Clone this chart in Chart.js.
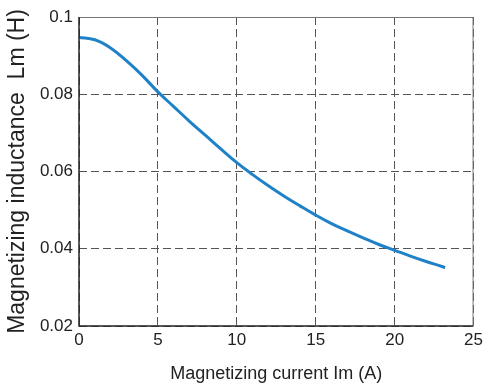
<!DOCTYPE html>
<html>
<head>
<meta charset="utf-8">
<script src="https://cdn.jsdelivr.net/npm/chart.js@4/dist/chart.umd.min.js"></script>
<style>
  html, body { margin: 0; padding: 0; background: #fff; }
  #wrap { width: 487px; height: 391px; }
</style>
</head>
<body>
<div id="wrap"><canvas id="lmChart" width="487" height="391"></canvas></div>
<script>
// courbe
const currentA = [0, 1, 2, 3, 4, 5, 6, 7, 8, 9, 10, 11, 12, 13, 14, 15, 16, 17, 18, 19, 20, 21, 22, 23, 23.2];
const inductanceH = [0.0947, 0.0941, 0.0920, 0.0887, 0.0849, 0.0806, 0.0768, 0.0730, 0.0694, 0.0658, 0.0623, 0.0592, 0.0563, 0.0536, 0.0511, 0.0487, 0.0465, 0.0446, 0.0428, 0.0411, 0.0396, 0.0381, 0.0367, 0.0354, 0.0351];
const xTickLabels = ['0', '5', '10', '15', '20', '25'];
const yTickLabels = ['0.02', '0.04', '0.06', '0.08', '0.1'];

const points = currentA.map((x, i) => ({ x: x, y: inductanceH[i] }));

// cadre: axes noirs a gauche/en bas, gris en haut/a droite (style matlab)
const boxPlugin = {
  id: 'box',
  afterDatasetsDraw(chart) {
    const a = chart.chartArea;
    const c = chart.ctx;
    c.save();
    c.lineWidth = 1;
    c.strokeStyle = '#777';
    c.beginPath();
    c.moveTo(a.left, a.top + 0.5);
    c.lineTo(a.right - 0.5, a.top + 0.5);
    c.lineTo(a.right - 0.5, a.bottom);
    c.stroke();
    c.lineWidth = 1.5;
    c.strokeStyle = '#222';
    c.beginPath();
    c.moveTo(a.left, a.top);
    c.lineTo(a.left, a.bottom);
    c.lineTo(a.right, a.bottom);
    c.stroke();
    c.restore();
  }
};

const font = { family: 'Liberation Sans, Arial, sans-serif', size: 17 };

new Chart(document.getElementById('lmChart').getContext('2d'), {
  type: 'line',
  data: {
    datasets: [{
      data: points,
      borderColor: '#1f82c8',
      borderWidth: 3,
      pointRadius: 0,
      tension: 0.4,
      fill: false
    }]
  },
  options: {
    responsive: false,
    animation: false,
    layout: { padding: { left: 0, right: 10, top: 17, bottom: 0 } },
    plugins: { legend: { display: false }, tooltip: { enabled: false } },
    scales: {
      x: {
        type: 'linear',
        min: 0,
        max: 25,
        ticks: {
          stepSize: 5,
          color: '#222',
          font: font,
          padding: 4,
          callback: (v, i) => xTickLabels[i]
        },
        grid: { color: '#555', drawTicks: false },
        border: { display: false, dash: [8, 4] },
        title: {
          display: true,
          text: 'Magnetizing current Im (A)',
          color: '#222',
          font: { family: 'Liberation Sans, Arial, sans-serif', size: 18 },
          padding: { top: 3, bottom: 6 }
        },
        afterFit: s => { s.height = 65; }
      },
      y: {
        min: 0.02,
        max: 0.1,
        ticks: {
          stepSize: 0.02,
          color: '#222',
          font: font,
          padding: 6,
          callback: (v, i) => yTickLabels[i]
        },
        grid: { color: '#555', drawTicks: false },
        border: { display: false, dash: [8, 4] },
        title: {
          display: true,
          text: 'Magnetizing inductance  Lm (H)',
          color: '#222',
          font: { family: 'Liberation Sans, Arial, sans-serif', size: 23 },
          padding: { top: 4, bottom: 0 }
        },
        afterFit: s => { s.width = 79; }
      }
    }
  },
  plugins: [boxPlugin]
});
</script>
</body>
</html>
